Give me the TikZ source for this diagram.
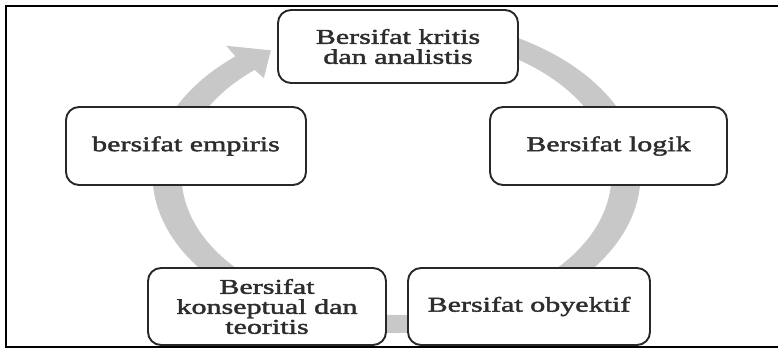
\documentclass[tikz,border=0pt]{standalone}
\usepackage{fontspec}
\setmainfont[FakeStretch=1.43,FakeBold=2]{Liberation Serif}
\definecolor{ringgray}{RGB}{200,200,200}
\definecolor{boxline}{RGB}{40,40,40}
\definecolor{txt}{RGB}{45,45,45}
\begin{document}
\begin{tikzpicture}[x=1pt,y=1pt,
  cyclebox/.style={draw=boxline, line width=1.9pt, fill=white, rounded corners=13pt,
    align=center, inner sep=0pt, text=txt,
    font=\fontsize{21}{20}\selectfont},
  frameline/.style={draw=black, line width=2.4pt}]
\useasboundingbox (0,0) rectangle (778,349);
% cycle ring with arrowhead
\fill[ringgray, shift={(396.5,174)}]
  (100:244 and 158) arc[start angle=100, end angle=-228.7, x radius=244, y radius=158]
  -- (-228.7:258 and 172) -- (-236.8:229.5 and 149) -- (-228.7:201 and 129)
  -- (-228.7:215 and 140) arc[start angle=-228.7, end angle=100, x radius=215, y radius=140]
  -- cycle;
% boxes
\node[cyclebox, minimum width=240pt, minimum height=73pt] (top) at (398,302.5) {Bersifat kritis\\dan analistis};
\node[cyclebox, minimum width=237pt, minimum height=78pt] (logik) at (608.5,203) {Bersifat logik};
\node[cyclebox, minimum width=240pt, minimum height=78pt] (empiris) at (186,203) {bersifat empiris};
\node[cyclebox, minimum width=238pt, minimum height=77pt] (konsep) at (267,42.5) {Bersifat\\konseptual dan\\teoritis};
\node[cyclebox, minimum width=242pt, minimum height=77pt] (obyektif) at (529,42.5) {Bersifat obyektif};
% frame
\draw[frameline] (778,343) -- (6,343) -- (6,2) -- (778,2);
\end{tikzpicture}
\end{document}
